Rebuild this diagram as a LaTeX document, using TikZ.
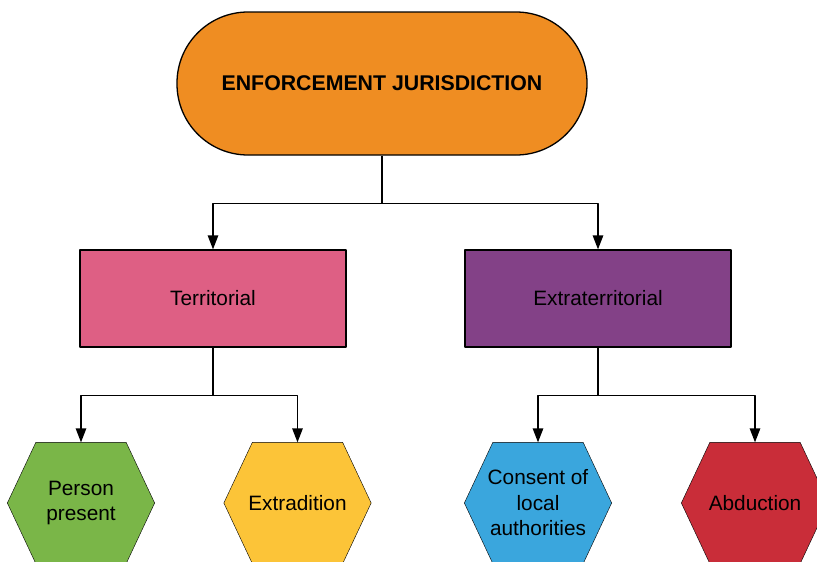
\documentclass[tikz,border=0pt]{standalone}
\usepackage{fontspec}
\setmainfont{Liberation Sans}
\usetikzlibrary{positioning,backgrounds,arrows.meta}
\definecolor{corange}{HTML}{EF8D22}
\definecolor{cpink}{HTML}{DE5F84}
\definecolor{cpurple}{HTML}{834187}
\definecolor{cgreen}{HTML}{7AB648}
\definecolor{cyellow}{HTML}{FCC438}
\definecolor{cblue}{HTML}{3AA6DD}
\definecolor{cred}{HTML}{C92D39}
\tikzset{
  topnode/.style={draw, fill=corange, rounded corners=71pt, minimum width=410pt, minimum height=143pt, font=\fontsize{21.3}{24}\selectfont\bfseries},
  midbox/.style={draw, minimum width=266pt, minimum height=97pt},
  hexnode/.style={minimum width=146pt, minimum height=120pt, inner sep=0pt, align=center},
}
\begin{document}
\begin{tikzpicture}[x=1pt, y=-1pt, font=\fontsize{20.8}{25.5}\selectfont, line width=1.3pt, line join=round, >={Triangle[length=14pt,width=10.5pt]}]
			\useasboundingbox (0,0) rectangle (817,562);
			\node[topnode] (enforce) at (382,83.5) {ENFORCEMENT JURISDICTION};
			\node[midbox, fill=cpink] (territ) at (213,298.5) {Territorial};
			\node[midbox, fill=cpurple] (extrater) at (598,298.5) {Extraterritorial};
			\node[hexnode] (person) at (81,503) {Person\\present};
			\node[hexnode] (extrad) at (297.5,503) {Extradition};
			\node[hexnode] (consent) at (538,503) {Consent of\\local\\authorities};
			\node[hexnode] (abduct) at (755,503) {Abduction};
			% hexagons behind the labels
			\begin{scope}[on background layer]
			\foreach \n/\c in {person/cgreen, extrad/cyellow, consent/cblue, abduct/cred}
			\filldraw[fill=\c] (\n.west) -- ([xshift=28.5pt]\n.north west) -- ([xshift=-28.5pt]\n.north east) -- (\n.east) -- ([xshift=-28.5pt]\n.south east) -- ([xshift=28.5pt]\n.south west) -- cycle;
			\end{scope}
			% connectors
			\draw (enforce.south) -- ++(0,48) coordinate (j0);
			\draw[->] (j0) -| (territ.north);
			\draw[->] (j0) -| (extrater.north);
			\draw (territ.south) -- ++(0,48) coordinate (j1);
			\draw[->] (j1) -| (person.north);
			\draw[->] (j1) -| (extrad.north);
			\draw (extrater.south) -- ++(0,48) coordinate (j2);
			\draw[->] (j2) -| (consent.north);
			\draw[->] (j2) -| (abduct.north);
		\end{tikzpicture}
\end{document}
